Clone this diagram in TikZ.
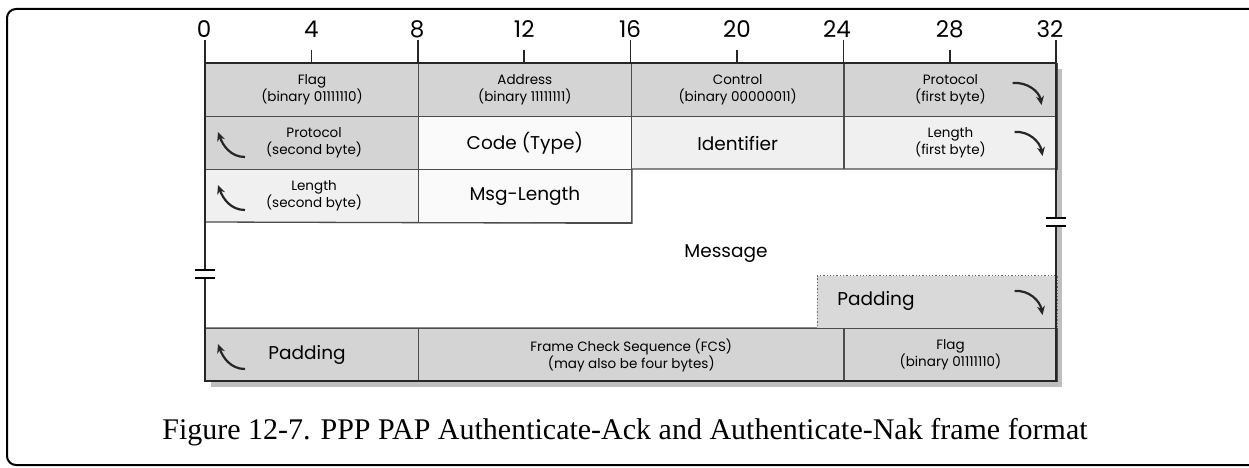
\documentclass[tikz,border=0pt]{standalone}
\usepackage{fontspec}
\setmainfont{Liberation Serif}
\setsansfont{Poppins}
\usetikzlibrary{arrows.meta,positioning,calc}
\tikzset{
  cell/.style={draw=black!70,line width=1.3pt,anchor=north west,minimum height=53pt,inner sep=0pt,align=center,font=\sffamily\fontsize{13.5}{17}\selectfont},
  byte/.style={cell,minimum width=212.8pt},
  word/.style={cell,minimum width=425.6pt},
  grycell/.style={fill=black!17},
  ltcell/.style={fill=black!6},
  whtcell/.style={fill=black!2},
  big/.style={font=\sffamily\fontsize{18.5}{21}\selectfont},
  crv/.style={-{Stealth[length=9pt,width=8pt]},line width=2.2pt,black!85},
  tick/.style={line width=1.6pt,black!85},
  bitnum/.style={font=\sffamily\fontsize{23}{25}\selectfont,anchor=base},
  brk/.style={line width=1.6pt,black}
}
\begin{document}
\begin{tikzpicture}[x=1pt,y=-1pt]
  \useasboundingbox (0,0) rectangle (1249,468);

  % outer frame of the figure
  \draw[line width=2pt,rounded corners=9pt] (1249,9) -- (7,9) -- (7,465) -- (1249,465);

  % ruler
  \foreach \b in {0,8,16,24,32}{
    \draw[tick] ({205+26.6*\b},40) -- ({205+26.6*\b},63);
  }
  \foreach \b in {4,12,20,28}{
    \draw[tick] ({205+26.6*\b},50) -- ({205+26.6*\b},63);
    \node[bitnum] at ({205+26.6*\b},38) {\b};
  }
  \node[bitnum] at (204,38) {0};
  \node[bitnum] at (417,38) {8};
  \node[bitnum] at (630,38) {16};
  \node[bitnum] at (837,38) {24};
  \node[bitnum] at (1050,38) {32};

  % shadow
  \fill[black!25] (211,69) rectangle (1062.2,387);

  % row 1
  \node[byte,grycell] (flag1) at (205,63) {Flag\\(binary 01111110)};
  \node[byte,grycell] (addr) at (417.8,63) {Address\\(binary 11111111)};
  \node[byte,grycell] (ctrl) at (630.6,63) {Control\\(binary 00000011)};
  \node[byte,grycell] (prot1) at (843.4,63) {Protocol\\(first byte)};
  % row 2
  \node[byte,grycell] (prot2) at (205,116) {\hspace*{4pt}Protocol\\\hspace*{4pt}(second byte)};
  \node[byte,whtcell,big] (code) at (417.8,116) {Code (Type)};
  \node[byte,ltcell,big] (ident) at (630.6,116) {Identifier};
  \node[byte,ltcell] (len1) at (843.4,116) {Length\\(first byte)};
  % row 3
  \node[byte,ltcell] (len2) at (205,169) {\hspace*{4pt}Length\\\hspace*{4pt}(second byte)};
  \node[byte,whtcell,big] (mlen) at (417.8,169) {Msg-Length};

  % message area
  \filldraw[fill=white,draw=black!70,line width=1.3pt] (mlen.north east) -- (1056.2,169) -- (1056.2,328) -- (205,328) -- (205,222) -- (mlen.south east) -- cycle;
  \node[big] (msg) at (726,254) {Message};
  \node[cell,fill=black!15,draw=black!60,dotted,minimum width=239.4pt] (pad1) at (816.8,275) {};
  \node[big] (padt) at (876,301) {Padding};

  % last row
  \node[byte,grycell,big] (pad2) at (205,328) {\hspace*{-10pt}Padding};
  \node[word,grycell] (fcs) at (417.8,328) {Frame Check Sequence (FCS)\\(may also be four bytes)};
  \node[byte,grycell] (flag2) at (843.4,328) {Flag\\(binary 01111110)};

  % border of the frame
  \draw[line width=2.4pt,black!85] (205,63) rectangle (1056.2,381);

  % breaks
  \fill[white] (1046,219) rectangle (1066,225);
  \draw[brk] (1046,218) -- (1066,218) (1046,226) -- (1066,226);
  \fill[white] (195,271) rectangle (215,277);
  \draw[brk] (195,270) -- (215,270) (195,278) -- (215,278);

  % continuation arrows
  \draw[crv] ($(prot1.north east)+(-45,20)$) to[out=5,in=100] ($(prot1.north east)+(-16,42)$);
  \draw[crv] ($(len1.north east)+(-43,16)$) to[out=5,in=100] ($(len1.north east)+(-15,40)$);
  \draw[crv] ($(pad1.north east)+(-43,16)$) to[out=5,in=100] ($(pad1.north east)+(-15,40)$);
  \draw[crv] ($(prot2.north west)+(40,41)$) to[out=180,in=-70] ($(prot2.north west)+(13,16)$);
  \draw[crv] ($(len2.north west)+(40,41)$) to[out=180,in=-70] ($(len2.north west)+(13,16)$);
  \draw[crv] ($(pad2.north west)+(40,41)$) to[out=180,in=-70] ($(pad2.north west)+(13,16)$);

  % caption
  \node[font=\fontsize{30}{32}\selectfont] (cap) at (625,432) {Figure 12-7. PPP PAP Authenticate-Ack and Authenticate-Nak frame format};
\end{tikzpicture}
\end{document}
